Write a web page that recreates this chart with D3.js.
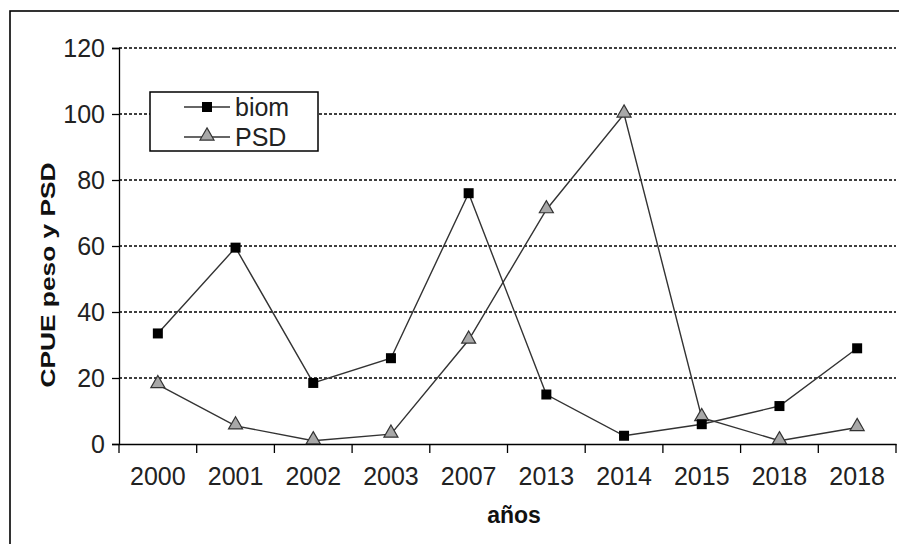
<!DOCTYPE html>
<html>
<head>
<meta charset="utf-8">
<script src="https://cdn.jsdelivr.net/npm/d3@7"></script>
<style>
  html, body { margin: 0; padding: 0; background: #fff; }
  svg { display: block; font-family: "Liberation Sans", Arial, sans-serif; }
</style>
</head>
<body>
<svg id="chart" width="899" height="544"></svg>
<script>
const categories = ["2000", "2001", "2002", "2003", "2007", "2013", "2014", "2015", "2018", "2018"];
const biom = [33.5, 59.5, 18.5, 26, 76, 15, 2.5, 6, 11.5, 29];
const psd = [18, 5.5, 1, 3, 31.5, 71, 100, 8, 1, 5];
const yTicks = [0, 20, 40, 60, 80, 100, 120];
const gridTicks = [20, 40, 60, 80, 100, 120];
const seriesNames = ["biom", "PSD"];

(function () {
const svg = d3.select("#chart");
const pLeft = 119, pRight = 896, pTop = 48, pBottom = 444;

// outer frame
svg.append("rect").attr("x", 10).attr("y", 11).attr("width", 900).attr("height", 545)
  .attr("fill", "none").attr("stroke", "#000").attr("stroke-width", 1.6);

const idx = categories.map((d, i) => i);
const x = d3.scaleBand().domain(idx).range([pLeft, pRight]).padding(0);
const y = d3.scaleLinear().domain([0, 120]).range([pBottom, pTop]);

// gridlines
svg.append("g").selectAll("line").data(gridTicks).join("line")
  .attr("x1", pLeft).attr("x2", pRight)
  .attr("y1", d => y(d)).attr("y2", d => y(d))
  .attr("stroke", "#000").attr("stroke-width", 1.3).attr("stroke-dasharray", "3,2");

// y axis
const yAxis = svg.append("g").attr("transform", `translate(${pLeft},0)`)
  .call(d3.axisLeft(y).tickValues(yTicks).tickSize(7).tickPadding(7).tickFormat(d3.format("d")));
yAxis.select(".domain").attr("stroke", "#000").attr("stroke-width", 1.3);
yAxis.selectAll(".tick line").attr("stroke", "#000").attr("stroke-width", 1.3);
yAxis.selectAll(".tick text").attr("font-size", 25).attr("fill", "#222")
  .attr("font-family", "Liberation Sans, Arial, sans-serif")
  .attr("dy", "0.35em");

// x axis (labels)
const xAxis = svg.append("g").attr("transform", `translate(0,${pBottom})`)
  .call(d3.axisBottom(x).tickSize(0).tickPadding(23).tickFormat(i => categories[i]));
xAxis.select(".domain").attr("stroke", "#000").attr("stroke-width", 1.3);
xAxis.selectAll(".tick text").attr("font-size", 25).attr("fill", "#222")
  .attr("font-family", "Liberation Sans, Arial, sans-serif");

// x boundary ticks
const bounds = d3.range(categories.length + 1);
svg.append("g").selectAll("line").data(bounds).join("line")
  .attr("x1", i => pLeft + i * x.step()).attr("x2", i => pLeft + i * x.step())
  .attr("y1", pBottom).attr("y2", pBottom + 9)
  .attr("stroke", "#000").attr("stroke-width", 1.3);

const cx = i => x(i) + x.bandwidth() / 2;
const line = d3.line().x((d, i) => cx(i)).y(d => y(d));

svg.append("path").datum(psd).attr("d", line)
  .attr("fill", "none").attr("stroke", "#333").attr("stroke-width", 1.4);
svg.append("path").datum(biom).attr("d", line)
  .attr("fill", "none").attr("stroke", "#333").attr("stroke-width", 1.4);

const tri = d3.symbol().type(d3.symbolTriangle).size(85);

svg.append("g").selectAll("path").data(psd).join("path")
  .attr("d", tri)
  .attr("transform", (d, i) => `translate(${cx(i)},${y(d) - 1})`)
  .attr("fill", "#a8a8a8").attr("stroke", "#333").attr("stroke-width", 1.2);

svg.append("g").selectAll("rect").data(biom).join("rect")
  .attr("x", (d, i) => cx(i) - 5).attr("y", d => y(d) - 5)
  .attr("width", 10).attr("height", 10).attr("fill", "#000");

// legend
const lg = svg.append("g");
lg.append("rect").attr("x", 150).attr("y", 92).attr("width", 168).attr("height", 59)
  .attr("fill", "#fff").attr("stroke", "#000").attr("stroke-width", 1.5);
seriesNames.forEach((name, k) => {
  const ly = 107 + k * 30;
  lg.append("line").attr("x1", 184).attr("x2", 230).attr("y1", ly).attr("y2", ly)
    .attr("stroke", "#333").attr("stroke-width", 1.4);
  if (k === 0) {
    lg.append("rect").attr("x", 202).attr("y", ly - 5).attr("width", 10).attr("height", 10).attr("fill", "#000");
  } else {
    lg.append("path").attr("d", tri).attr("transform", `translate(207,${ly - 1})`)
      .attr("fill", "#a8a8a8").attr("stroke", "#333").attr("stroke-width", 1.2);
  }
  lg.append("text").attr("x", 235).attr("y", ly + 9).attr("font-size", 25).attr("fill", "#222")
    .text(name);
});

// axis titles
svg.append("text").attr("x", 514).attr("y", 523).attr("text-anchor", "middle")
  .attr("font-size", 23).attr("font-weight", "bold").attr("fill", "#111").text("años");

svg.append("text").attr("transform", "translate(55,275) rotate(-90)")
  .attr("text-anchor", "middle").attr("font-size", 20).attr("font-weight", "bold").attr("fill", "#111")
  .attr("textLength", 225).attr("lengthAdjust", "spacingAndGlyphs")
  .text("CPUE peso y PSD");
})();
</script>
</body>
</html>
